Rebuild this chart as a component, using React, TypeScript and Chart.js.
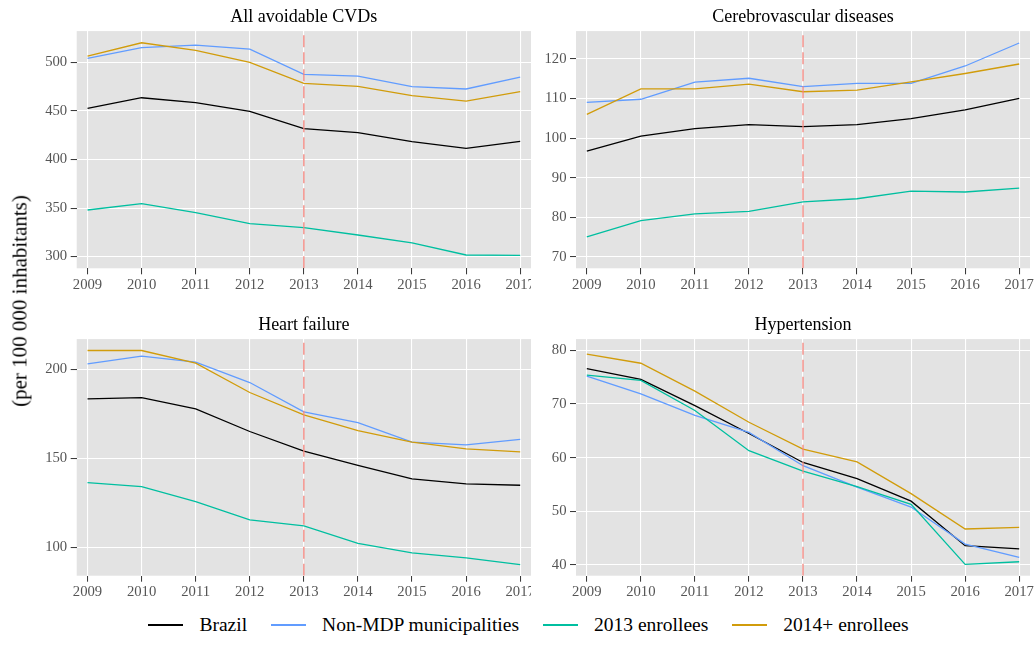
import React, { useEffect, useRef } from "react";
import { Chart, registerables } from "chart.js";

Chart.register(...registerables);

// ---------- data ----------
const years = [2009, 2010, 2011, 2012, 2013, 2014, 2015, 2016, 2017];
const programStart = 2013;
const seriesNames = ["Brazil", "Non-MDP municipalities", "2013 enrollees", "2014+ enrollees"];
const seriesColors = ["#000000", "#619CFF", "#00BFA0", "#D19C0B"];

// All avoidable CVDs
const cvdBrazil = [452.7, 463.6, 458.5, 449.6, 431.7, 427.6, 418.4, 411.5, 418.7];
const cvdNonMdp = [504.1, 515.1, 517.8, 513.7, 487.6, 485.9, 475.0, 472.6, 484.9];
const cvdEnr2013 = [348.0, 354.6, 345.3, 334.0, 329.9, 322.3, 314.1, 301.7, 301.4];
const cvdEnr2014 = [506.5, 520.2, 512.3, 500.0, 478.4, 475.3, 465.7, 460.2, 469.8];
const cvdTicks = [300, 350, 400, 450, 500];
const cvdRange = [288.0, 532.2];

// Cerebrovascular diseases
const cereBrazil = [96.7, 100.5, 102.4, 103.4, 102.9, 103.4, 104.9, 107.1, 110.0];
const cereNonMdp = [109.0, 109.8, 114.1, 115.1, 113.0, 113.8, 113.8, 118.2, 124.0];
const cereEnr2013 = [75.1, 79.2, 80.9, 81.5, 83.9, 84.7, 86.6, 86.4, 87.4];
const cereEnr2014 = [106.0, 112.4, 112.4, 113.6, 111.7, 112.1, 114.2, 116.3, 118.7];
const cereTicks = [70, 80, 90, 100, 110, 120];
const cereRange = [67.15, 127.0];

// Heart failure
const hfBrazil = [183.3, 184.0, 177.7, 165.0, 154.0, 146.0, 138.4, 135.6, 134.8];
const hfNonMdp = [203.0, 207.3, 204.0, 192.5, 176.0, 170.0, 159.0, 157.5, 160.6];
const hfEnr2013 = [136.3, 134.0, 125.6, 115.3, 112.0, 102.2, 96.8, 94.0, 90.2];
const hfEnr2014 = [210.5, 210.5, 203.4, 186.9, 174.3, 165.5, 159.0, 155.2, 153.6];
const hfTicks = [100, 150, 200];
const hfRange = [84.0, 216.9];

// Hypertension
const htBrazil = [76.6, 74.6, 69.7, 64.5, 59.1, 56.1, 51.9, 43.6, 43.0];
const htNonMdp = [75.2, 71.9, 67.9, 64.7, 58.5, 54.5, 50.8, 43.9, 41.4];
const htEnr2013 = [75.4, 74.4, 68.8, 61.3, 57.5, 54.6, 51.3, 40.1, 40.6];
const htEnr2014 = [79.3, 77.6, 72.4, 66.6, 61.6, 59.2, 53.3, 46.7, 47.0];
const htTicks = [40, 50, 60, 70, 80];
const htRange = [38.0, 82.1];

const yAxisTitle = "(per 100 000 inhabitants)";

// ---------- layout / style ----------
const FONT = "'Liberation Serif', 'Times New Roman', Times, serif";
const PANEL_BG = "#E3E3E3";
const VLINE_COLOR = "#F4857D";

type PanelDef = {
  title: string;
  series: number[][];
  ticks: number[];
  range: number[];
  left: number;
  top: number;
  width: number;
  height: number;
  yAxisWidth: number;
  xAxisHeight: number;
  padRight: number;
};

const panels: PanelDef[] = [
  {
    title: "All avoidable CVDs",
    series: [cvdBrazil, cvdNonMdp, cvdEnr2013, cvdEnr2014],
    ticks: cvdTicks,
    range: cvdRange,
    left: 30, top: 0, width: 501, height: 308,
    yAxisWidth: 46.7, xAxisHeight: 39.7, padRight: 0,
  },
  {
    title: "Cerebrovascular diseases",
    series: [cereBrazil, cereNonMdp, cereEnr2013, cereEnr2014],
    ticks: cereTicks,
    range: cereRange,
    left: 531, top: 0, width: 504, height: 308,
    yAxisWidth: 45, xAxisHeight: 39.7, padRight: 5,
  },
  {
    title: "Heart failure",
    series: [hfBrazil, hfNonMdp, hfEnr2013, hfEnr2014],
    ticks: hfTicks,
    range: hfRange,
    left: 30, top: 308, width: 501, height: 302,
    yAxisWidth: 46.7, xAxisHeight: 34.3, padRight: 0,
  },
  {
    title: "Hypertension",
    series: [htBrazil, htNonMdp, htEnr2013, htEnr2014],
    ticks: htTicks,
    range: htRange,
    left: 531, top: 308, width: 504, height: 302,
    yAxisWidth: 45, xAxisHeight: 34.3, padRight: 5,
  },
];

const panelBgPlugin = {
  id: "panelBg",
  beforeDraw(chart: any) {
    const { ctx, chartArea: a } = chart;
    if (!a) return;
    ctx.save();
    ctx.fillStyle = PANEL_BG;
    ctx.fillRect(a.left, a.top, a.right - a.left, a.bottom - a.top);
    ctx.restore();
  },
};

function buildConfig(p: PanelDef): any {
  const datasets: any[] = p.series.map((vals, i) => ({
    label: seriesNames[i],
    data: years.map((x, j) => ({ x, y: vals[j] })),
    borderColor: seriesColors[i],
    backgroundColor: seriesColors[i],
    borderWidth: 1.3,
    pointRadius: 0,
    pointHoverRadius: 0,
    tension: 0,
    fill: false,
    order: seriesNames.length - i,
  }));
  datasets.push({
    label: "programme start",
    data: [
      { x: programStart, y: p.range[0] },
      { x: programStart, y: p.range[1] },
    ],
    borderColor: VLINE_COLOR,
    borderWidth: 1.3,
    borderDash: [12, 5],
    pointRadius: 0,
    fill: false,
    order: 0,
  });

  return {
    type: "line",
    data: { datasets },
    plugins: [panelBgPlugin],
    options: {
      animation: false,
      responsive: false,
      devicePixelRatio: 1,
      events: [],
      layout: { padding: { left: 0, right: p.padRight, top: 0, bottom: 0 } },
      plugins: {
        legend: { display: false },
        tooltip: { enabled: false },
        title: {
          display: true,
          text: p.title,
          fullSize: false,
          color: "#000000",
          font: { family: FONT, size: 18, weight: "normal", lineHeight: 1.2 },
          padding: { top: 6.5, bottom: 3 },
        },
      },
      scales: {
        x: {
          type: "linear",
          min: years[0] - 0.2,
          max: years[years.length - 1] + 0.2,
          afterBuildTicks: (s: any) => {
            s.ticks = years.map((v) => ({ value: v }));
          },
          afterFit: (s: any) => {
            s.height = p.xAxisHeight;
            s.paddingLeft = 0;
            s.paddingRight = 0;
          },
          border: { display: false },
          grid: {
            color: "#FFFFFF",
            lineWidth: 1.1,
            tickColor: "#333333",
            tickWidth: 1,
            tickLength: 6,
            drawTicks: true,
          },
          ticks: {
            color: "#555555",
            font: { family: FONT, size: 14.7 },
            padding: 2,
            maxRotation: 0,
            minRotation: 0,
            autoSkip: false,
            callback: (v: any) => String(v),
          },
        },
        y: {
          type: "linear",
          min: p.range[0],
          max: p.range[1],
          afterBuildTicks: (s: any) => {
            s.ticks = p.ticks.map((v) => ({ value: v }));
          },
          afterFit: (s: any) => {
            s.width = p.yAxisWidth;
            s.paddingTop = 0;
            s.paddingBottom = 0;
          },
          border: { display: false },
          grid: {
            color: "#FFFFFF",
            lineWidth: 1.1,
            tickColor: "#333333",
            tickWidth: 1,
            tickLength: 6,
            drawTicks: true,
          },
          ticks: {
            color: "#555555",
            font: { family: FONT, size: 14.7 },
            padding: 3.5,
            autoSkip: false,
            callback: (v: any) => String(v),
          },
        },
      },
    },
  };
}

function Legend() {
  return (
    <div
      style={{
        position: "absolute",
        left: 11,
        top: 611,
        width: 1035,
        height: 28,
        display: "flex",
        justifyContent: "center",
        alignItems: "center",
        fontFamily: FONT,
        fontSize: 19.5,
        color: "#000000",
        whiteSpace: "nowrap",
      }}
    >
      {seriesNames.map((name, i) => (
        <div
          key={name}
          style={{
            display: "flex",
            alignItems: "center",
            marginRight: i < seriesNames.length - 1 ? 24 : 0,
          }}
        >
          <span
            style={{
              display: "inline-block",
              width: 35,
              height: 2,
              background: seriesColors[i],
              marginRight: 16,
            }}
          />
          <span>{name}</span>
        </div>
      ))}
    </div>
  );
}

export default function App() {
  const refs = useRef<(HTMLCanvasElement | null)[]>([]);

  useEffect(() => {
    const charts: Chart[] = [];
    panels.forEach((p, i) => {
      const c = refs.current[i];
      if (c) charts.push(new Chart(c, buildConfig(p)));
    });
    return () => {
      charts.forEach((ch) => ch.destroy());
    };
  }, []);

  return (
    <div
      style={{
        position: "absolute",
        left: 0,
        top: 0,
        width: 1035,
        height: 664,
        background: "#FFFFFF",
        overflow: "hidden",
      }}
    >
      {panels.map((p, i) => (
        <canvas
          key={p.title}
          ref={(el) => {
            refs.current[i] = el;
          }}
          width={p.width}
          height={p.height}
          style={{
            position: "absolute",
            left: p.left,
            top: p.top,
            width: p.width,
            height: p.height,
            display: "block",
          }}
        />
      ))}
      <div
        style={{
          position: "absolute",
          left: 20,
          top: 301,
          transform: "translate(-50%, -50%) rotate(-90deg)",
          fontFamily: FONT,
          fontSize: 21,
          color: "#000000",
          whiteSpace: "nowrap",
        }}
      >
        {yAxisTitle}
      </div>
      <Legend />
    </div>
  );
}
